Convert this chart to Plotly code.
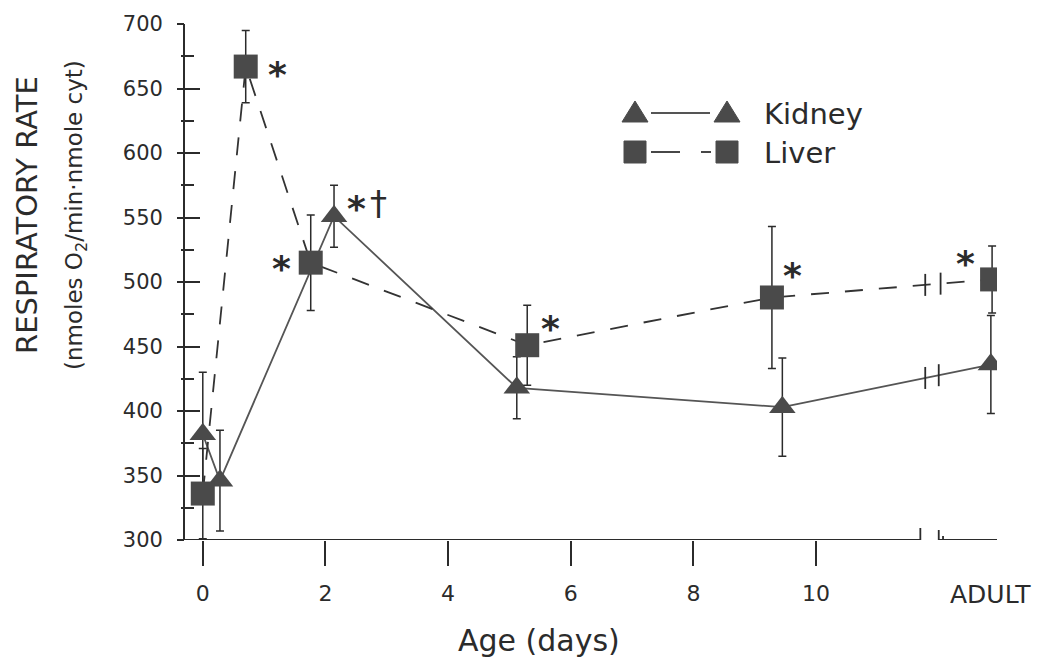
import numpy as np
import plotly.graph_objects as go

# ---------------- data ----------------
kidney_x = [0, 0.28, 2.14, 5.12, 9.45, 12.85]
kidney_y = [382, 346, 551, 418, 403, 436]
kidney_err = [48, 39, 24, 24, 38, 38]

liver_x = [0, 0.70, 1.76, 5.29, 9.28, 12.87]
liver_y = [336, 667, 515, 451, 488, 502]
liver_err = [35, 28, 37, 31, 55, 26]

x_tickvals = [0, 2, 4, 6, 8, 10]
x_ticktext = ["0", "2", "4", "6", "8", "10"]
adult_label = "ADULT"
break_left, break_right = 11.70, 12.0   # axis break (days scale)
adult_tick = 12.07

# significance marks: (series, index, text, xshift, yshift, size, bold)
sig_marks = [
    ("liver", 1, "*", 32, -8, 36, True),
    ("kidney", 2, "*", 22, 8, 36, True),
    ("kidney", 2, "†", 44, 13, 34, False),
    ("liver", 2, "*", -29, -6, 36, True),
    ("liver", 3, "*", 23, 17, 36, True),
    ("liver", 4, "*", 21, 22, 36, True),
    ("liver", 5, "*", -27, 16, 36, True),
]

# ---------------- layout geometry ----------------
W, H = 1043, 668
ML, MR, MT, MB = 185, 46, 24, 128
PW, PH = W - ML - MR, H - MT - MB
XR = [-0.29, 12.95]
YR = [300, 700]

def px(x):  # pixel -> paper x
    return (x - ML) / PW

def py(y):  # pixel -> paper y
    return (H - MB - y) / PH

def dy(pix):  # pixel height -> y data units
    return pix * (YR[1] - YR[0]) / PH

INK = "#2b2b2b"
MARK = "#4a4a4a"
FONT = "DejaVu Sans"

fig = go.Figure()

fig.add_trace(go.Scatter(
    x=kidney_x, y=kidney_y, mode="lines+markers", name="Kidney",
    line=dict(color="#555555", width=1.8),
    marker=dict(symbol="triangle-up", size=23, color=MARK),
    error_y=dict(type="data", array=kidney_err, visible=True,
                 color=INK, thickness=1.5, width=4),
))
fig.add_trace(go.Scatter(
    x=liver_x, y=liver_y, mode="lines+markers", name="Liver",
    line=dict(color="#333333", width=1.8, dash="18px,16px"),
    marker=dict(symbol="square", size=24, color=MARK),
    error_y=dict(type="data", array=liver_err, visible=True,
                 color=INK, thickness=1.5, width=4),
))
# empty trace so the outer tick axis gets drawn
fig.add_trace(go.Scatter(x=[], y=[], yaxis="y2", showlegend=False, hoverinfo="skip"))

shapes = []
# x axis line with break
for x0, x1 in [(XR[0], break_left), (break_right, XR[1])]:
    shapes.append(dict(type="line", xref="x", yref="y", x0=x0, x1=x1, y0=YR[0], y1=YR[0],
                       line=dict(color=INK, width=1.8)))
shapes.append(dict(type="line", xref="x", yref="y", x0=break_left, x1=break_left,
                   y0=YR[0] - dy(14), y1=YR[0] + dy(12), line=dict(color=INK, width=1.8)))
shapes.append(dict(type="line", xref="x", yref="y", x0=break_right, x1=break_right,
                   y0=YR[0] - dy(12), y1=YR[0] + dy(10), line=dict(color=INK, width=1.8)))
shapes.append(dict(type="line", xref="x", yref="y", x0=adult_tick, x1=adult_tick,
                   y0=YR[0] - dy(30), y1=YR[0] + dy(4), line=dict(color=INK, width=1.8)))

# break bars on the series lines
for xs, ys, xb in [(kidney_x, kidney_y, [11.78, 12.0]), (liver_x, liver_y, [11.78, 12.03])]:
    for xv in xb:
        yv = float(np.interp(xv, xs, ys))
        shapes.append(dict(type="line", xref="x", yref="y", x0=xv, x1=xv,
                           y0=yv - dy(11), y1=yv + dy(11), line=dict(color=INK, width=1.8)))

# legend drawing
def tri(cx, cy):
    pts = [(cx - 13, cy + 9), (cx + 13, cy + 9), (cx, cy - 12)]
    return "M " + " L ".join(f"{px(a):.5f},{py(b):.5f}" for a, b in pts) + " Z"

for cx in (635, 727):
    shapes.append(dict(type="path", xref="paper", yref="paper", path=tri(cx, 113),
                       fillcolor=MARK, line=dict(color=MARK, width=1)))
    shapes.append(dict(type="rect", xref="paper", yref="paper",
                       x0=px(cx - 11), x1=px(cx + 11), y0=py(152 + 11), y1=py(152 - 11),
                       fillcolor=MARK, line=dict(color=MARK, width=1)))
shapes.append(dict(type="line", xref="paper", yref="paper", x0=px(651), x1=px(710),
                   y0=py(113), y1=py(113), line=dict(color="#555555", width=1.8)))
for a, b in [(651, 680), (701, 711)]:
    shapes.append(dict(type="line", xref="paper", yref="paper", x0=px(a), x1=px(b),
                       y0=py(152), y1=py(152), line=dict(color="#333333", width=1.8)))

annotations = []
series = {"kidney": (kidney_x, kidney_y), "liver": (liver_x, liver_y)}
for s, i, txt, xs, ys, sz, bold in sig_marks:
    sx, sy = series[s]
    annotations.append(dict(x=sx[i], y=sy[i], xref="x", yref="y",
                            text=f"<b>{txt}</b>" if bold else txt, showarrow=False,
                            xanchor="center", yanchor="middle",
                            xshift=xs, yshift=ys, font=dict(family=FONT, size=sz, color=INK)))

def label(x, y, text, size, angle=0, xanchor="center"):
    return dict(x=px(x), y=py(y), xref="paper", yref="paper", text=text, showarrow=False,
                xanchor=xanchor, yanchor="middle", textangle=angle,
                font=dict(family=FONT, size=size, color=INK))

annotations += [
    label(762, 114, "Kidney", 29, xanchor="left"),
    label(762, 153, "Liver", 29, xanchor="left"),
    label(990, 594, adult_label, 25),
    label(539, 640, "Age (days)", 30),
    label(27, 215, "RESPIRATORY RATE", 29, angle=-90),
    label(76, 215, "(nmoles O<sub>2</sub>/min·nmole cyt)", 23, angle=-90),
]

fig.update_layout(
    width=W, height=H, margin=dict(l=ML, r=MR, t=MT, b=MB, pad=0),
    paper_bgcolor="white", plot_bgcolor="white", showlegend=False,
    shapes=shapes, annotations=annotations,
    xaxis=dict(range=XR, showgrid=False, zeroline=False, showline=False,
               tickvals=x_tickvals, ticktext=x_ticktext, ticks="outside", ticklen=25,
               tickwidth=1.8, tickcolor=INK, ticklabelstandoff=9,
               tickfont=dict(family=FONT, size=22, color=INK)),
    yaxis=dict(range=YR, showgrid=False, zeroline=False, showline=True, linecolor=INK,
               linewidth=1.8, tick0=300, dtick=50, ticks="inside", ticklen=15,
               tickwidth=1.8, tickcolor=INK, ticklabelstandoff=16,
               minor=dict(dtick=25, ticks="inside", ticklen=9, tickcolor=INK, tickwidth=1.5),
               tickfont=dict(family=FONT, size=21, color=INK)),
    yaxis2=dict(range=YR, overlaying="y", anchor="x", side="left", showgrid=False,
                zeroline=False, showline=False, showticklabels=False,
                tick0=300, dtick=50, ticks="outside", ticklen=7, tickwidth=1.8, tickcolor=INK,
                minor=dict(dtick=25, ticks="outside", ticklen=3, tickcolor=INK, tickwidth=1.5)),
)

fig.write_html("out.html")
